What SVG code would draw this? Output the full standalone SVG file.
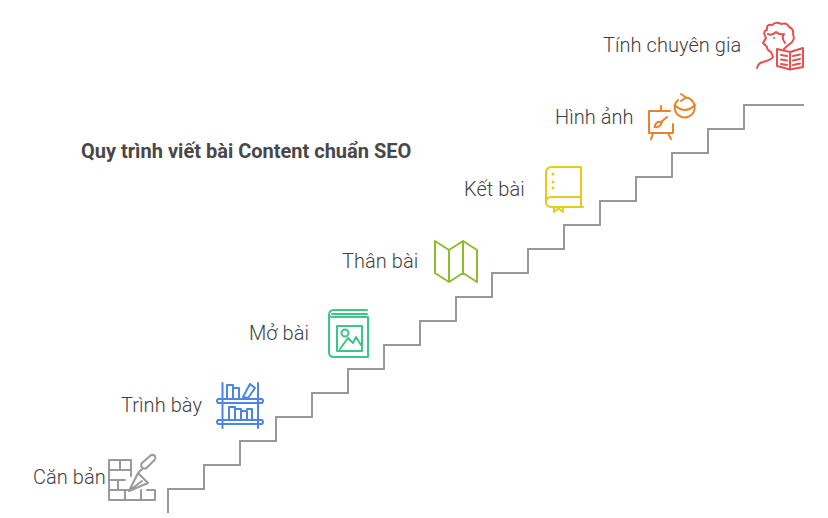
<svg xmlns="http://www.w3.org/2000/svg" width="828" height="518" viewBox="0 0 828 518">
<style>
text{font-family:Roboto,"Noto Sans",sans-serif;font-size:20px;font-weight:300;fill:#3f3f3f;letter-spacing:.06px}
.t{font-weight:700;font-size:20px;fill:#484848;letter-spacing:0}
.i{fill:none;stroke-width:2;stroke-linecap:round;stroke-linejoin:round}
.s{fill:none;stroke:#999;stroke-width:2}
</style>
<rect width="828" height="518" fill="#fff"/>
<g id="connectors"><path class="s" d="M168 513V489H204V465H240V441H276V417H312V393H348V369H384V345H420V321H456V297H492V273H528V249H564V225H600V201H636V177H672V153H708V129H744V105H804"/></g>
<g id="title"><text class="t" x="81" y="158">Quy trình viết bài Content chuẩn SEO</text></g>
<g id="can-ban"><text x="33" y="484">Căn bản</text>
<path class="i" stroke="#999" d="M109 460H131V470H109ZM120 460V470M109 470V500H155V490H147M109 480H125M131 470V476M109 490H129M118 480V490M125 490V500M141 490V500"/>
<path class="i" stroke="#999" d="M141.500 463.500L150.500 455.500Q153 454 155 456Q156 458 154.500 460L146 468.500Q143 469 141.500 467Q141 465 141.500 463.500ZM143 468L139 472M138 473L129 491L148 483ZM130 490L142 481"/></g>
<g id="trinh-bay"><text x="121" y="412">Trình bày</text>
<path class="i" stroke="#4a86e8" d="M222.500 383V428M258 383V428M218 399H262Q264 401 262 403H218Q216 401 218 399ZM218 420H262Q264 422 262 424H218Q216 422 218 420ZM227 399V385H233V399M233 388H239V399M243 397L250 384L255 388L248 398ZM229 420V407H235V420M235 409H241V420M241 411H247V420M247 409H252V420"/></g>
<g id="mo-bai"><text x="249" y="340">Mở bài</text>
<path class="i" stroke="#3cc68a" d="M367 310H334Q329 310 329 315V352Q329 357 334 357H368V317H334Q329 317 329 315M332 314H367M337 326H362V351H337ZM340 349L348 338L353 343L356 337L361 345"/><circle class="i" stroke="#3cc68a" cx="345" cy="333" r="3.500"/></g>
<g id="than-bai"><text x="342" y="268">Thân bài</text>
<path class="i" stroke="#8fbc2e" d="M435 241L449 250L463 241L477 250V282L463 273L449 282L435 273ZM449 250V282M463 241V273"/></g>
<g id="ket-bai"><text x="464" y="196">Kết bài</text>
<path class="i" stroke="#e6cc17" d="M581 197V167H552Q546 167 546 173V202Q546 197 552 197H581ZM546 202Q546 207 552 207H583M581 197V207M554 207V212L558.500 208.500L563 212V207"/><circle cx="553" cy="174" r="1.500" fill="#e6cc17"/><circle cx="553" cy="182" r="1.500" fill="#e6cc17"/><circle cx="553" cy="188" r="1.500" fill="#e6cc17"/></g>
<g id="hinh-anh"><text x="555" y="124">Hình ảnh</text>
<path class="i" stroke="#e8832a" d="M661 106V111M670 111H649V133H673V124M653 133L651 139.500M668 133L671 139M667 117L661 122Q656 121 654.500 127Q660 128 662 122"/>
<path class="i" stroke="#e8832a" d="M686 97.500A10 10 0 1 1 678 100M674.500 105Q685 115 695 105M681 94L686 97.500L681 101"/></g>
<g id="tinh-chuyen-gia"><text x="603" y="52">Tính chuyên gia</text>
<path class="i" stroke="#e8504f" d="M757 68Q758 63 763 62Q771 60 773 57L771 52Q767 50 767 47L763 43L766 38Q762 31 767 30Q766 24 772 25Q776 21 781 24Q787 22 789 27Q794 29 793 34Q795 39 792 42Q790 44 787 46L784 49M768 34Q772 36 776 32Q779 35 784 34M784 34Q781 38 785 43"/><path class="i" stroke="#e8504f" d="M777 49L790 52L803 48V67L790 69.500L777 66ZM790 52V69.500M781 55L787 56M781 59.500L787 60.500M781 64L787 65M793 56L800 54.500M793 60.500L800 59M793 65L800 63.500"/><circle cx="774" cy="38" r="1" fill="#e8504f"/></g>
</svg>
